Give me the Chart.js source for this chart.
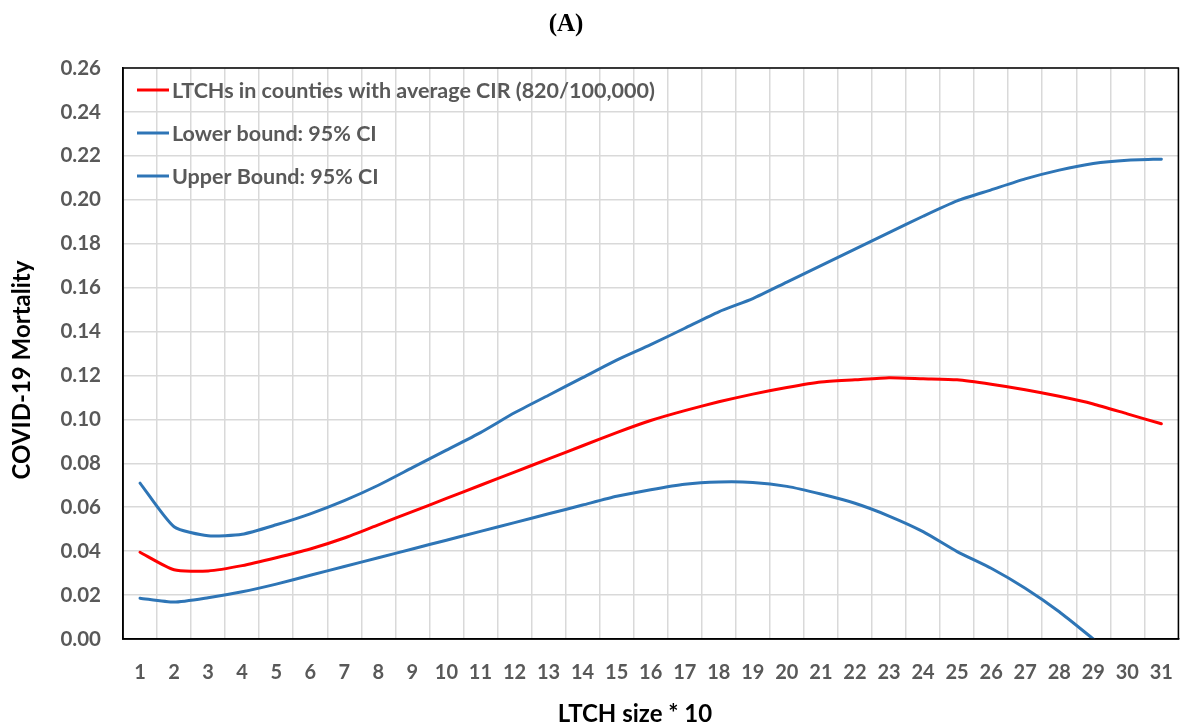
<!DOCTYPE html>
<html>
<head>
<meta charset="utf-8">
<script src="https://cdn.jsdelivr.net/npm/chart.js@4/dist/chart.umd.min.js"></script>
<style>
  html, body { margin: 0; padding: 0; background: #fff; }
  #wrap { width: 1195px; height: 728px; }
</style>
</head>
<body>
<div id="wrap"><canvas id="c" width="1195" height="728"></canvas></div>
<script>
// LTCH size categories (x10 beds)
const categories = ['1','2','3','4','5','6','7','8','9','10','11','12','13','14','15','16',
                    '17','18','19','20','21','22','23','24','25','26','27','28','29','30','31'];

// Predicted COVID-19 mortality, county with average CIR (820/100,000)
const meanMortality = [0.0395, 0.0315, 0.031, 0.0334, 0.037, 0.041, 0.046, 0.052, 0.058, 0.064,
                       0.070, 0.076, 0.082, 0.088, 0.094, 0.0995, 0.104, 0.108, 0.1115, 0.1145,
                       0.117, 0.118, 0.119, 0.1185, 0.118, 0.116, 0.1135, 0.1105, 0.107, 0.1025, 0.098];

// Lower bound of the 95% confidence interval (falls below zero after 29)
const lowerBound = [0.0186, 0.0168, 0.0188, 0.0215, 0.025, 0.029, 0.033, 0.037, 0.041, 0.045,
                    0.049, 0.053, 0.057, 0.061, 0.065, 0.068, 0.0705, 0.0715, 0.0713, 0.0695,
                    0.066, 0.0618, 0.056, 0.0489, 0.0398, 0.0322, 0.0231, 0.0124, 0.0, null, null];

// Upper bound of the 95% confidence interval
const upperBound = [0.071, 0.0511, 0.047, 0.0477, 0.052, 0.057, 0.063, 0.070, 0.078, 0.086,
                    0.094, 0.103, 0.111, 0.119, 0.127, 0.134, 0.1415, 0.149, 0.155, 0.1625,
                    0.170, 0.1775, 0.185, 0.1925, 0.1995, 0.2045, 0.2095, 0.2135, 0.2165, 0.218, 0.2185];

const seriesLabels = ['LTCHs in counties with average CIR (820/100,000)',
                      'Lower bound: 95% CI',
                      'Upper Bound: 95% CI'];

const panelTitle = '(A)';
const xTitle = 'LTCH size * 10';
const yTitle = 'COVID-19 Mortality';

const RED = '#FF0000';
const BLUE = '#2E75B6';
const GREY = '#595959';
const FONT = 'Lato, "Open Sans", "DejaVu Sans", sans-serif';

// Legend drawn inside the plot area, top-left
const insideLegend = {
  id: 'insideLegend',
  afterDatasetsDraw(chart) {
    const ctx = chart.ctx;
    const area = chart.chartArea;
    ctx.save();
    ctx.font = 'bold 21.5px ' + FONT;
    ctx.textBaseline = 'middle';
    ctx.textAlign = 'left';
    chart.data.datasets.forEach((ds, i) => {
      const y = area.top + 22 + i * 43;
      const x0 = area.left + 14;
      ctx.strokeStyle = ds.borderColor;
      ctx.lineWidth = 3;
      ctx.beginPath();
      ctx.moveTo(x0, y);
      ctx.lineTo(x0 + 32, y);
      ctx.stroke();
      ctx.fillStyle = GREY;
      ctx.fillText(ds.label, x0 + 35, y + 1);
    });
    ctx.restore();
  }
};

// Panel letter and axis titles
const titles = {
  id: 'titles',
  afterDraw(chart) {
    const ctx = chart.ctx;
    ctx.save();
    ctx.fillStyle = '#000';
    ctx.textAlign = 'center';
    ctx.textBaseline = 'middle';
    ctx.font = 'bold 25px "Liberation Serif", "DejaVu Serif", serif';
    ctx.fillText(panelTitle, 566, 25);
    ctx.font = 'bold 24px ' + FONT;
    ctx.fillText(xTitle, 635, 714);
    ctx.translate(22, 370);
    ctx.rotate(-Math.PI / 2);
    ctx.fillText(yTitle, 0, 0);
    ctx.restore();
  }
};

// Black frame around the plot area
const plotFrame = {
  id: 'plotFrame',
  afterDraw(chart) {
    const a = chart.chartArea;
    const ctx = chart.ctx;
    ctx.save();
    ctx.strokeStyle = '#000';
    ctx.lineWidth = 1.5;
    ctx.strokeRect(a.left, a.top, a.right - a.left, a.bottom - a.top);
    ctx.restore();
  }
};

new Chart(document.getElementById('c'), {
  type: 'line',
  data: {
    labels: categories,
    datasets: [
      { label: seriesLabels[0], data: meanMortality, borderColor: RED, backgroundColor: RED },
      { label: seriesLabels[1], data: lowerBound, borderColor: BLUE, backgroundColor: BLUE },
      { label: seriesLabels[2], data: upperBound, borderColor: BLUE, backgroundColor: BLUE }
    ]
  },
  options: {
    responsive: false,
    animation: false,
    layout: { padding: { top: 68, right: 2, bottom: 0, left: 0 } },
    elements: {
      point: { radius: 0, hoverRadius: 0 },
      line: { borderWidth: 3, tension: 0.2, borderCapStyle: 'round', borderJoinStyle: 'round' }
    },
    plugins: {
      legend: { display: false },
      tooltip: { enabled: false },
      title: { display: false }
    },
    scales: {
      x: {
        type: 'category',
        offset: true,
        grid: { offset: true, color: '#d9d9d9', lineWidth: 1.5, drawTicks: false },
        border: { display: true, color: '#000', width: 1.5 },
        ticks: { color: GREY, font: { family: FONT, size: 20, weight: 'bold' }, padding: 22, maxRotation: 0, autoSkip: false },
        title: { display: false },
        afterFit(scale) { scale.height = 89; }
      },
      y: {
        min: 0,
        max: 0.26,
        grid: { color: '#d9d9d9', lineWidth: 1.5, drawTicks: false },
        border: { display: true, color: '#000', width: 1.5 },
        ticks: {
          stepSize: 0.02,
          color: GREY,
          font: { family: FONT, size: 20.5, weight: 'bold' },
          padding: 22,
          callback: (v) => Number(v).toFixed(2)
        },
        title: { display: false },
        afterFit(scale) { scale.width = 123; }
      }
    }
  },
  plugins: [insideLegend, titles, plotFrame]
});
</script>
</body>
</html>
